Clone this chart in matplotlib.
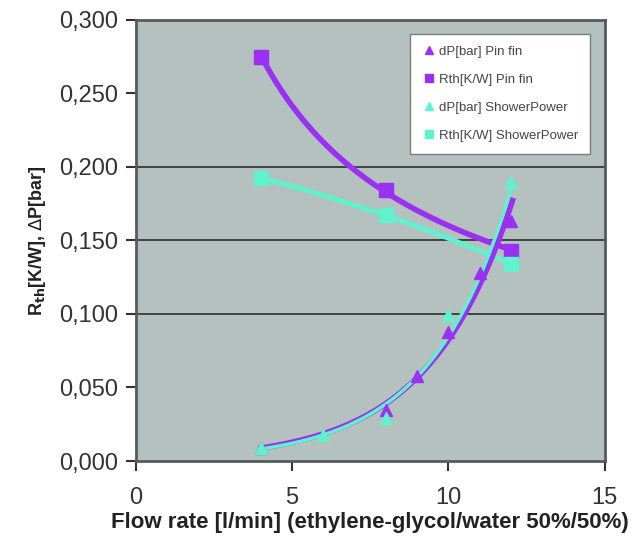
import numpy as np
import matplotlib
matplotlib.use("Agg")
import matplotlib.pyplot as plt
from matplotlib.ticker import FuncFormatter

plt.rcParams['font.family'] = ['Liberation Sans', 'DejaVu Sans']

PURPLE = '#9a30f2'
CYAN = '#60f2cc'

# data
flow_dp_pin = [4, 8, 9, 10, 11, 12]
dp_pin = [0.009, 0.035, 0.058, 0.088, 0.128, 0.163]
flow_rth_pin = [4, 8, 12]
rth_pin = [0.275, 0.184, 0.143]
flow_dp_sp = [4, 6, 8, 10, 12]
dp_sp = [0.009, 0.018, 0.029, 0.099, 0.19]
flow_rth_sp = [4, 8, 12]
rth_sp = [0.1925, 0.167, 0.134]

fig = plt.figure(figsize=(6.44, 5.37), dpi=100)
ax = fig.add_axes([0.211, 0.1415, 0.728, 0.8215])
ax.set_facecolor('#b5c1bf')

# trend lines (Excel style fits)
xs = np.linspace(4, 12, 200)
p, lc = np.polyfit(np.log(flow_rth_pin), np.log(rth_pin), 1)
ax.plot(xs, np.exp(lc) * xs ** p, color=PURPLE, lw=4, zorder=3)
q = np.polyfit(flow_rth_sp, rth_sp, 2)
ax.plot(xs, np.polyval(q, xs), color=CYAN, lw=3.5, zorder=3)
b, a = np.polyfit(flow_dp_pin, np.log(dp_pin), 1)
xs2 = np.linspace(4, 12.05, 200)
ax.plot(xs2, np.exp(a + b * xs2), color=PURPLE, lw=4, zorder=3)
b2, a2 = np.polyfit(flow_dp_sp, np.log(dp_sp), 1)
ax.plot(xs2, np.exp(a2 + b2 * xs2), color=CYAN, lw=2.5, zorder=4)

ax.plot(flow_dp_pin, dp_pin, '^', color=PURPLE, ms=9, ls='none', zorder=5, label='dP[bar] Pin fin')
ax.plot(flow_rth_pin, rth_pin, 's', color=PURPLE, ms=10, ls='none', zorder=5, label='Rth[K/W] Pin fin')
ax.plot(flow_dp_sp, dp_sp, '^', color=CYAN, ms=9, ls='none', zorder=5, label='dP[bar] ShowerPower')
ax.plot(flow_rth_sp, rth_sp, 's', color=CYAN, ms=10, ls='none', zorder=5, label='Rth[K/W] ShowerPower')

for g in [0.1, 0.15, 0.2]:
    ax.axhline(g, color='#2b2f2e', lw=1.2, zorder=1)

ax.set_xlim(0, 15)
ax.set_ylim(0, 0.3)
ax.set_xticks([0, 5, 10, 15])
ax.set_yticks(np.arange(0, 0.301, 0.05))
ax.yaxis.set_major_formatter(FuncFormatter(lambda v, pos: f'{v:.3f}'.replace('.', ',')))
ax.tick_params(axis='both', labelsize=17, colors='#333333', length=7, width=1.5, direction='out')
ax.tick_params(axis='x', pad=12)
ax.tick_params(axis='y', pad=6)
for s in ax.spines.values():
    s.set_color('#555c5b')
    s.set_linewidth(2)

ax.set_xlabel('Flow rate [l/min] (ethylene-glycol/water 50%/50%)', fontsize=16,
              fontweight='bold', color='#222222', labelpad=2)
ax.set_ylabel(r'R$_{\mathbf{th}}$[K/W], $\Delta$P[bar]', fontsize=13,
              fontweight='bold', color='#222222', labelpad=8)

leg = ax.legend(loc='upper right', bbox_to_anchor=(0.982, 0.984), fontsize=9.5,
                frameon=True, fancybox=False, labelspacing=1.2, handletextpad=0.1,
                handlelength=1.2, borderpad=0.9, markerscale=0.6, framealpha=1)
leg.get_frame().set_edgecolor('#7a7f7e')
leg.get_frame().set_facecolor('white')
leg.get_frame().set_linewidth(1)
for t in leg.get_texts():
    t.set_color('#444444')

fig.savefig('out.png', dpi=100)
